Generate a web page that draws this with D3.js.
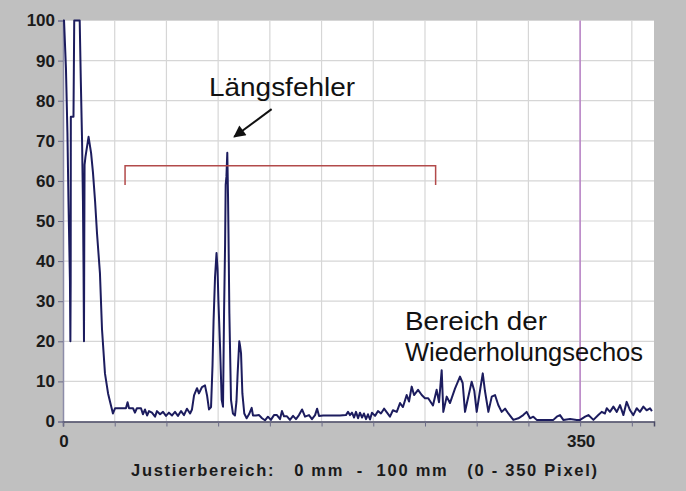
<!DOCTYPE html>
<html>
<head>
<meta charset="utf-8">
<script src="https://cdn.jsdelivr.net/npm/d3@7"></script>
<style>
  body { margin: 0; background: #c0c0c0; }
  svg { display: block; font-family: "Liberation Sans", Arial, sans-serif; }
</style>
</head>
<body>
<div class="main"></div>
<script>
// Ultraschall-Echosignal: Amplitude über Position (Pixel)

// Kurvenpunkte (Pixelposition / Amplitude in %)
const pixelPos = [0, 0.7, 2, 3, 3.7, 4.7, 5, 5.2, 5.3, 7.1, 7.6, 11.3, 12, 12.9, 13.5, 13.9, 14.2, 14.4, 14.6, 15.2,
  17.3, 19, 20.3, 21.7, 23, 25, 26.4, 28.4, 30.5, 31.8, 33.8, 35.2, 42.6, 43.7, 44.7,
  47.4, 48.7, 50, 52.8, 54.1, 55.5, 56.9, 58.2, 60.2, 62.3, 63.6, 65.7, 67.7, 69.7, 71.7, 73.8, 75.8, 77.8, 79.9,
  81.9, 83.9, 86, 87.3, 88.7, 90.7, 92, 94.1, 96.1, 97.5, 98.8, 100.2, 101.2, 101.9, 102.9, 103.9, 104.6, 105.2,
  106.3, 107.4, 108.3, 109, 109.7, 110.1, 110.6, 111.2, 111.7, 112, 112.6, 113.7, 115, 116.4, 117.4, 118.2, 119.3,
  119.8, 120.5, 121.4, 122.7, 124.3, 125.9, 127.7, 128.6, 130.6, 132.7, 134.7, 136.7, 138.7, 140.7, 142.8, 144.8,
  146.9, 148.2, 149.6, 151.6, 153.6, 155.7, 157.7, 159.7, 161.8, 163.8, 166.5, 168.5, 170.6, 172, 173.3, 176,
  180.7, 187.5, 191.5, 192.9, 194.2, 195.6, 197, 198.3, 199.7, 201, 202.4, 203.7, 205.1, 206.4, 207.8, 209.1,
  211.2, 213.2, 215.2, 217.3, 219.3, 221.3, 223.3, 225.9, 228.1, 230.1, 232.6, 234.2, 236, 237.6, 240.3, 242.8,
  245, 247.2, 250.4, 252.9, 254.5, 256.3, 257.4, 259.7, 261.9, 265.3, 268.7, 270.5, 272.1, 273.6, 276.6, 278.4,
  280, 282.2, 284.1, 285.6, 287.9, 290.2, 292.4, 294.6, 296.9, 299.2, 301.4, 304.8, 308.2, 311.5, 313.8, 316.1,
  318.3, 320.6, 322.8, 327.4, 331.9, 334.2, 336.4, 338.6, 343.2, 347.7, 350, 353.4, 355.6, 359, 362.3, 364.6,
  366.8, 368, 370.2, 372.5, 374.8, 377, 379.3, 381.5, 383.8, 386, 388.3, 390.5, 392.8, 395, 397.3, 398.6];
const amplitude = [100, 100, 88, 72, 55, 35, 20, 35, 76, 76, 100, 100, 86, 70, 55, 38, 20, 45, 64, 66,
  71, 67, 62, 55, 47, 37, 23, 12, 7, 5, 2, 3.3, 3.3, 4.8, 3.3,
  3.3, 2.2, 3.3, 3.3, 1.8, 3, 1.5, 2.6, 2.2, 1.2, 2.6, 1.8, 2.4, 1.4, 2.2, 1.5, 2.4, 1.4, 2.6,
  1.6, 3.2, 2, 3, 6.5, 8.3, 7, 8.6, 9, 6.5, 3, 3.6, 14, 25, 36, 42, 38, 30,
  18.6, 5.4, 3.7, 27, 44, 59, 61, 67, 56, 47, 27, 5.4, 2, 1.5, 5, 12, 20,
  19, 17, 7, 2, 0.8, 1.8, 3.4, 1.5, 1.5, 1.6, 0.8, 0.3, 1.2, 0.4, 1.6, 1.6,
  0.6, 2.6, 1.3, 1.3, 0.4, 1.4, 0.6, 1.6, 3, 1.2, 1.6, 0.6, 1.6, 3.2, 1.4, 1.5,
  1.5, 1.5, 1.6, 2.4, 1.6, 2.2, 1, 2.4, 0.8, 2.2, 1, 2, 0.6, 1.8, 0.5, 2.2,
  1.4, 2.6, 2, 3.2, 2.2, 1.2, 2.8, 2.4, 4.6, 3.6, 6.6, 5, 8.7, 6.6, 7.9, 6.6,
  5.8, 5.8, 4, 7.9, 4.8, 12.8, 2.4, 6.2, 4.6, 8.2, 11.2, 9.6, 2.4, 5, 9.9, 7.6,
  2.4, 7.6, 12, 7.6, 2.4, 6.2, 6.6, 4.1, 2.4, 3.2, 2, 0.4, 0.8, 1.6, 2.4, 0.8,
  1.2, 0.4, 0.4, 0.4, 0.4, 1.2, 1.6, 0.4, 0.6, 0.4, 0.4, 1.2, 1.6, 0.4, 1.6, 2.4,
  2, 3.3, 2.4, 3.7, 2.4, 4.1, 1.6, 4.9, 2.8, 1.6, 3.3, 2.4, 3.7, 2.8, 3.3, 2.6];

// Achsen: Teilstriche und Beschriftungen
const yTicks = [0, 10, 20, 30, 40, 50, 60, 70, 80, 90, 100];
const xGrid = [0, 35, 70, 105, 140, 175, 210, 245, 280, 315, 350, 385];
const xLabels = [0, 350];
const markerPos = 350;

// Anmerkungen (in Datenkoordinaten)
const bracketX = [42, 252.2];
const bracketY = [63.8, 59];
const arrowFrom = [141.2, 77.9];
const arrowTo = [115.9, 71];
const labelFehler = "Längsfehler";
const labelBereich = ["Bereich der", "Wiederholungsechos"];
const xTitle = "Justierbereich:   0 mm  -  100 mm   (0 - 350 Pixel)";

const W = 686, H = 491;
const plot = { left: 63, right: 654, top: 20.5, bottom: 421.5 };

const svg = d3.select('.main')
  .append('svg')
    .attr('width', W)
    .attr('height', H);

svg.append('rect')
  .attr('width', W).attr('height', H)
  .attr('fill', '#c0c0c0');

const x = d3.scaleLinear().domain([0, 400]).range([plot.left, plot.right]);
const y = d3.scaleLinear().domain([0, 100]).range([plot.bottom, plot.top]);

// Zeichenfläche
svg.append('rect')
  .attr('x', x(0)).attr('y', y(100))
  .attr('width', x(400) - x(0)).attr('height', y(0) - y(100))
  .attr('fill', '#ffffff');

// Gitter
svg.append('g')
  .selectAll('line')
  .data(yTicks.slice(1))
  .join('line')
    .attr('x1', x(0)).attr('x2', x(400))
    .attr('y1', d => y(d)).attr('y2', d => y(d))
    .attr('stroke', '#d6d6d6').attr('stroke-width', 1.2);

svg.append('g')
  .selectAll('line')
  .data(xGrid.slice(1))
  .join('line')
    .attr('x1', d => x(d)).attr('x2', d => x(d))
    .attr('y1', y(0)).attr('y2', y(100))
    .attr('stroke', '#d6d6d6').attr('stroke-width', 1.2);

// Markierung bei 350 Pixel
svg.append('line')
  .attr('x1', x(markerPos)).attr('x2', x(markerPos))
  .attr('y1', y(0)).attr('y2', y(100))
  .attr('stroke', '#b982c6').attr('stroke-width', 1.5);

// Y-Achse
const yAxis = svg.append('g')
  .attr('transform', 'translate(' + x(0) + ',0)')
  .call(d3.axisLeft(y).tickValues(yTicks).tickSize(5).tickPadding(3));
yAxis.select('.domain').attr('stroke', '#8c8ca8').attr('stroke-width', 1.5);
yAxis.selectAll('.tick line').attr('stroke', '#6c6c88');
yAxis.selectAll('text')
  .attr('font-size', 17).attr('font-weight', 'bold')
  .attr('font-family', '"Liberation Sans", Arial, sans-serif')
  .attr('fill', '#1a1a1a');

// X-Achse
const xAxis = svg.append('g')
  .attr('transform', 'translate(0,' + y(0) + ')')
  .call(d3.axisBottom(x).tickValues(xGrid).tickSize(5).tickFormat(''));
xAxis.select('.domain').attr('stroke', '#4a4a66').attr('stroke-width', 1.5);
xAxis.selectAll('.tick line').attr('stroke', '#6c6c88');

svg.append('g')
  .selectAll('text')
  .data(xLabels)
  .join('text')
    .attr('x', d => x(d) + 1)
    .attr('y', 447)
    .attr('text-anchor', 'middle')
    .attr('font-size', 17).attr('font-weight', 'bold')
    .attr('fill', '#1a1a1a')
    .text(d => d);

// Achsentitel
svg.append('text')
  .attr('x', 131).attr('y', 476)
  .attr('font-size', 16.5).attr('font-weight', 'bold')
  .attr('fill', '#1a1a1a')
  .attr('textLength', 466).attr('lengthAdjust', 'spacing')
  .style('white-space', 'pre')
  .text(xTitle);

// Messkurve
const line = d3.line()
  .x(d => x(d[0]))
  .y(d => y(d[1]));

svg.append('path')
  .datum(d3.zip(pixelPos, amplitude))
  .attr('fill', 'none')
  .attr('stroke', '#1c1c5e')
  .attr('stroke-width', 2)
  .attr('stroke-linejoin', 'round')
  .attr('d', line);

// Klammer für den Längsfehler-Bereich
svg.append('path')
  .attr('d', 'M' + x(bracketX[0]) + ',' + y(bracketY[1]) +
             'V' + y(bracketY[0]) +
             'H' + x(bracketX[1]) +
             'V' + y(bracketY[1]))
  .attr('fill', 'none')
  .attr('stroke', '#b24a4a')
  .attr('stroke-width', 1.5);

// Pfeil
svg.append('defs').append('marker')
  .attr('id', 'arrow')
  .attr('viewBox', '0 0 10 10')
  .attr('refX', 9).attr('refY', 5)
  .attr('markerWidth', 7).attr('markerHeight', 6)
  .attr('orient', 'auto')
  .append('path')
    .attr('d', 'M0,0L10,5L0,10z')
    .attr('fill', '#111');

svg.append('line')
  .attr('x1', x(arrowFrom[0])).attr('y1', y(arrowFrom[1]))
  .attr('x2', x(arrowTo[0])).attr('y2', y(arrowTo[1]))
  .attr('stroke', '#111').attr('stroke-width', 2)
  .attr('marker-end', 'url(#arrow)');

// Beschriftungen
svg.append('text')
  .attr('x', 209).attr('y', 96)
  .attr('font-size', 25)
  .attr('fill', '#111')
  .attr('textLength', 146).attr('lengthAdjust', 'spacingAndGlyphs')
  .text(labelFehler);

svg.append('g')
  .selectAll('text')
  .data(labelBereich)
  .join('text')
    .attr('x', 405)
    .attr('y', (d, i) => 330 + i * 31)
    .attr('font-size', 25)
    .attr('fill', '#111')
    .attr('textLength', (d, i) => i === 0 ? 142 : 238)
    .attr('lengthAdjust', 'spacingAndGlyphs')
    .text(d => d);
</script>
</body>
</html>
